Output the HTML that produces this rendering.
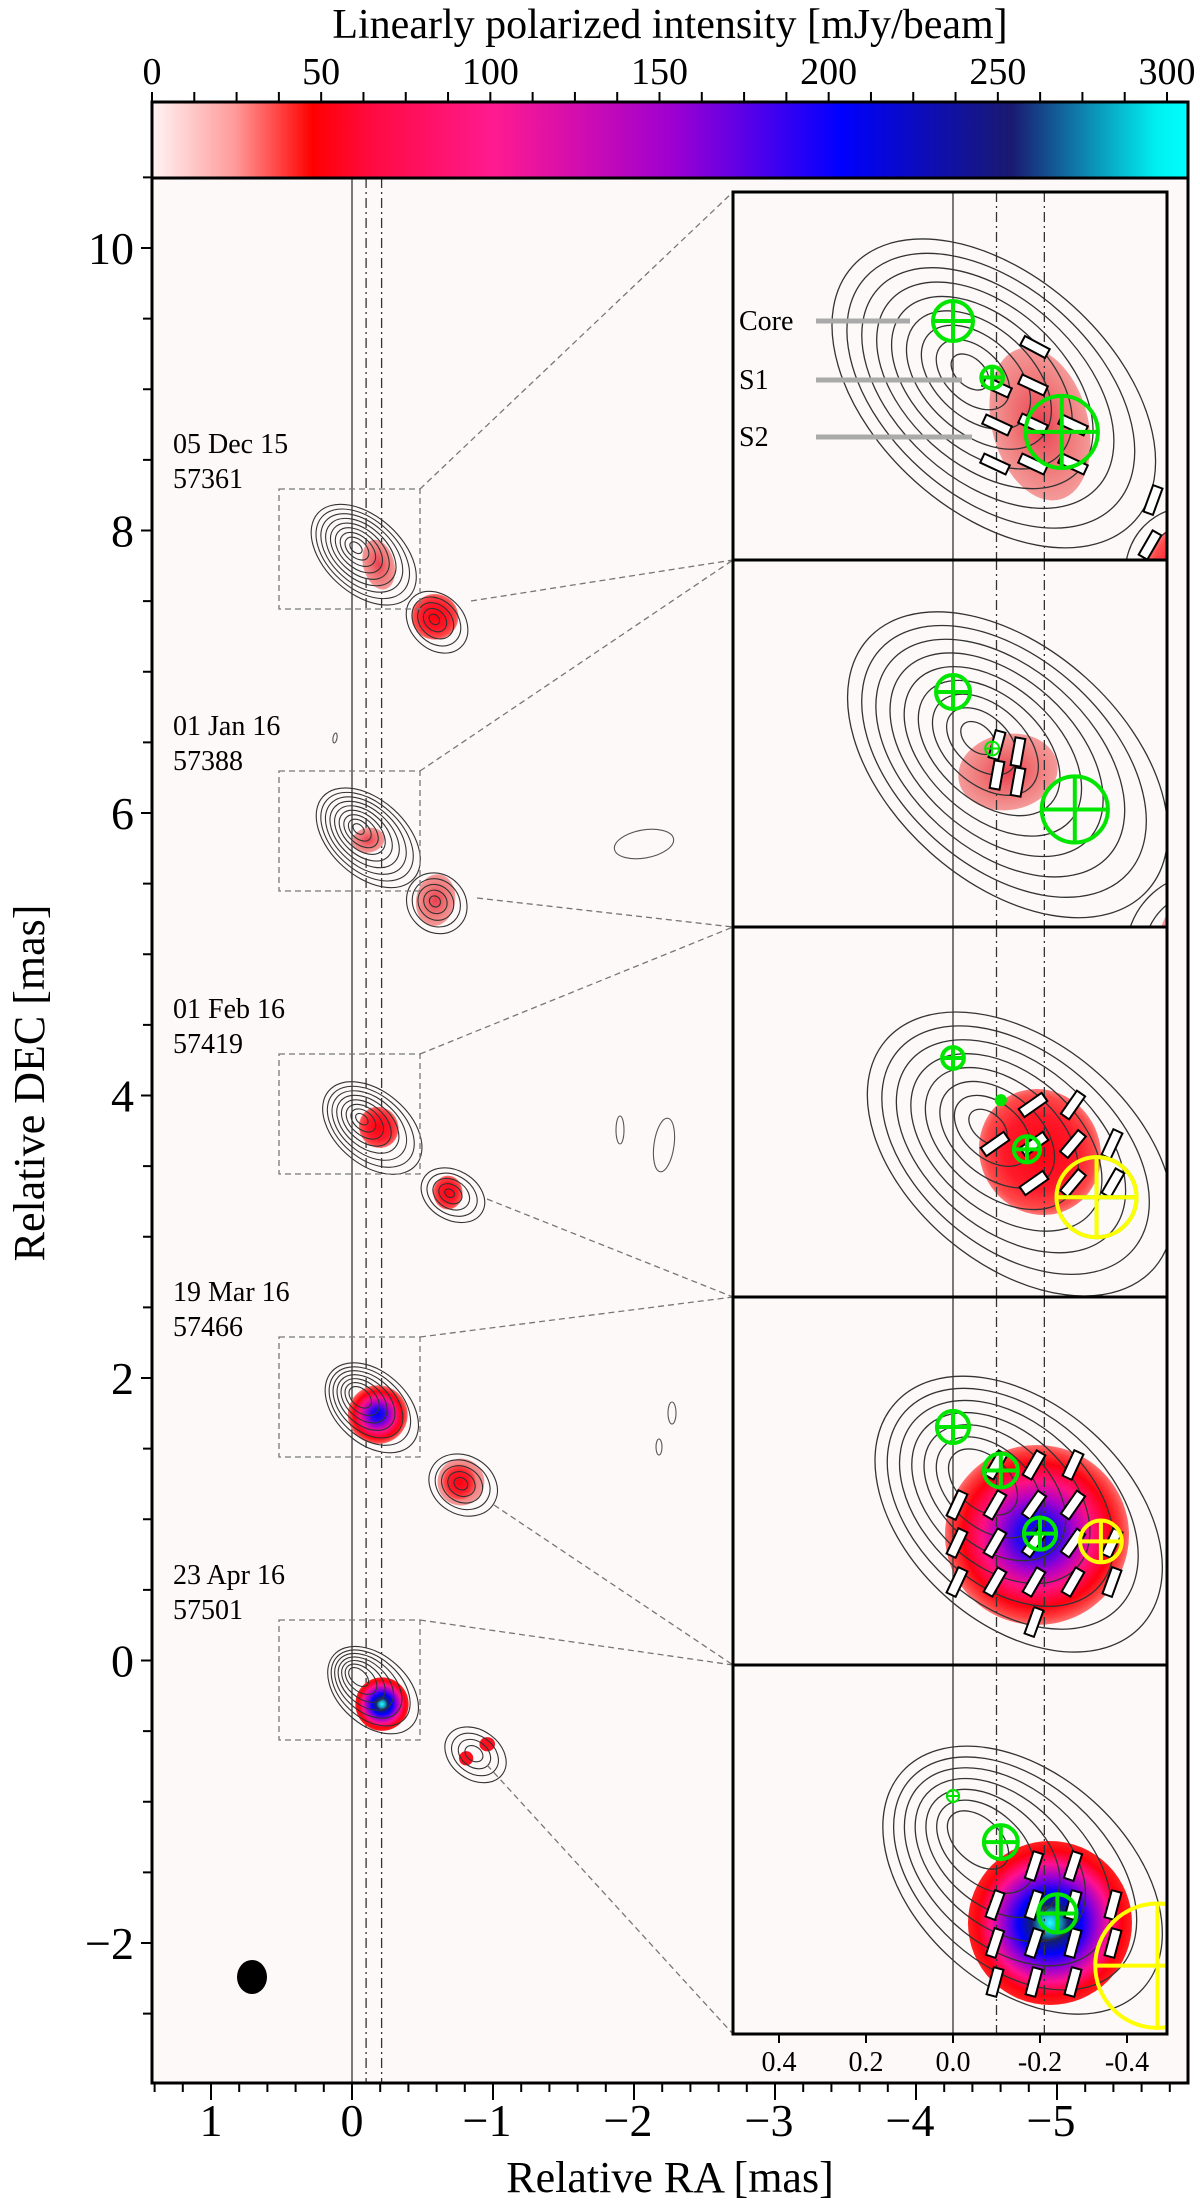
<!DOCTYPE html>
<html><head><meta charset="utf-8"><style>
html,body{margin:0;padding:0;background:#fff}
svg{display:block;font-family:"Liberation Serif",serif}
</style></head><body>
<svg id="fig" width="1200" height="2211" viewBox="0 0 1200 2211" xmlns="http://www.w3.org/2000/svg">
<defs>
<linearGradient id="cbar" x1="152" x2="1188" y1="0" y2="0" gradientUnits="userSpaceOnUse">
<stop offset="0" stop-color="#fff4f4"/><stop offset="0.08" stop-color="#ff9a9a"/><stop offset="0.155" stop-color="#ff0000"/>
<stop offset="0.21" stop-color="#ff0a40"/><stop offset="0.33" stop-color="#ff1a90"/><stop offset="0.5" stop-color="#a000d0"/>
<stop offset="0.6" stop-color="#4000f0"/><stop offset="0.665" stop-color="#0000ff"/><stop offset="0.83" stop-color="#1a1a70"/>
<stop offset="0.97" stop-color="#00f0f0"/><stop offset="1" stop-color="#00ffff"/>
</linearGradient>
<radialGradient id="gWeak"><stop offset="0" stop-color="#ea4050"/><stop offset="0.6" stop-color="#f07a7a"/><stop offset="1" stop-color="#f49a9a"/></radialGradient>
<radialGradient id="gRed"><stop offset="0" stop-color="#ff0010"/><stop offset="0.6" stop-color="#ff1a2a"/><stop offset="0.9" stop-color="#ff4a4a"/><stop offset="1" stop-color="#f77"/></radialGradient>
<radialGradient id="gE4"><stop offset="0" stop-color="#0000f8"/><stop offset="0.22" stop-color="#2a08f0"/><stop offset="0.42" stop-color="#b000c8"/><stop offset="0.6" stop-color="#ff1080"/><stop offset="0.8" stop-color="#ff0010"/><stop offset="0.93" stop-color="#ff4040"/><stop offset="1" stop-color="#ff7070"/></radialGradient>
<radialGradient id="gE5"><stop offset="0" stop-color="#20ffff"/><stop offset="0.12" stop-color="#18a0c0"/><stop offset="0.22" stop-color="#14206a"/><stop offset="0.38" stop-color="#0000ff"/><stop offset="0.55" stop-color="#9000d8"/><stop offset="0.72" stop-color="#ff1090"/><stop offset="0.88" stop-color="#ff0010"/><stop offset="1" stop-color="#ff2020"/></radialGradient>
<clipPath id="plotClip"><rect x="152" y="178" width="1036" height="1905"/></clipPath>
</defs>
<g id="root"></g>
</svg>
<script>
// ---------- data ----------
const cbTicks = [0, 50, 100, 150, 200, 250, 300];
const decTicks = [10, 8, 6, 4, 2, 0, -2];
const raTicks = [1, 0, -1, -2, -3, -4, -5];
const insetTicks = [0.4, 0.2, 0.0, -0.2, -0.4];
const epochDates = ["05 Dec 15", "01 Jan 16", "01 Feb 16", "19 Mar 16", "23 Apr 16"];
const epochMJD = ["57361", "57388", "57419", "57466", "57501"];
const refLinesRA = [0, -0.1, -0.21];
// model components per epoch: [ra mas, dec offset mas from core, radius mas]
const coreComp = [[0,0,0.046],[0,0,0.039],[0,0,0.025],[0,0,0.037],[0,0,0.014]];
const s1Comp = [[-0.09,-0.13,0.025],[-0.09,-0.13,0.016],[-0.17,-0.21,0.03],[-0.11,-0.10,0.039],[-0.11,-0.106,0.039]];
const s2Comp = [[-0.25,-0.255,0.083],[-0.28,-0.27,0.076],[-0.33,-0.32,0.092],[-0.2,-0.245,0.037],[-0.24,-0.27,0.044]];
const yellowComp = [null,null,[-0.33,-0.32,0.092],[-0.34,-0.263,0.048],[-0.47,-0.39,0.143]];
const dotComp = [null,null,[-0.11,-0.097,0.014],null,null];

// ---------- scales ----------
const NS = "http://www.w3.org/2000/svg";
const root = document.getElementById('root');
function mk(tag, attrs, parent){const e=document.createElementNS(NS,tag);for(const k in attrs)e.setAttribute(k,attrs[k]);(parent||root).appendChild(e);return e;}
const xRA = ra => 352 - ra*141;
const yDEC = d => 248 + (10-d)*141.25;
const xCB = v => 152 + v*(1167-152)/300;
const INS_L=733, INS_R=1167, INS_W=434, INS_S=435;
const xIns = ra => 953 - ra*INS_S;
const panelTops = [192,560,927,1297,1665,2034];
const boxTops = [489,771,1054,1337,1620];
const BOX_L=279, BOX_W=141, BOX_H=120, SCX=INS_W/BOX_W, SCY=368/BOX_H;
const coreLocal = [[215,129],[216,132],[215,131],[215,130],[215,131]];

// ---------- colorbar ----------
const cbTitle = mk('text',{x:670,y:38,'font-size':42,'text-anchor':'middle'});
cbTitle.textContent='Linearly polarized intensity [mJy/beam]';


const cb = mk('rect',{x:152,y:102,width:1036,height:76,fill:'url(#cbar)',stroke:'#000','stroke-width':3});


for(let v=0; v<=300; v+=12.5){ mk('line',{x1:xCB(v),x2:xCB(v),y1:102,y2:92,stroke:'#000','stroke-width':2}); }
cbTicks.forEach(v=>{const t=mk('text',{x:xCB(v),y:84,'font-size':38,'text-anchor':'middle'});t.textContent=String(v);

});

// ---------- main plot ----------
const bg = mk('rect',{x:152,y:178,width:1036,height:1905,fill:'#fdf9f8'});


const mainG = mk('g',{'clip-path':'url(#plotClip)'});

function rings(g, cx, cy, ang, n, rx0, drx, ry0, dry, shift, sw){
  const a = ang*Math.PI/180;
  for(let k=0;k<n;k++){
    const c=[cx+k*shift*Math.cos(a), cy+k*shift*Math.sin(a)];
    mk('ellipse',{cx:c[0],cy:c[1],rx:rx0+k*drx,ry:ry0+k*dry,transform:`rotate(${ang} ${c[0]} ${c[1]})`,fill:'none',stroke:'#333','stroke-width':sw,'vector-effect':'non-scaling-stroke'},g);
  }
}
function drawSource(g, i, sw){
  const blob=(cx,cy,rx,ry,rot,fill)=>mk('ellipse',{cx,cy,rx,ry,transform:`rotate(${rot} ${cx} ${cy})`,fill},g);
  if(i===0){
    blob(307,232,48,78,-15,'url(#gWeak)'); blob(480,392,72,70,0,'url(#gRed)');
    rings(g,237,180,42,9,22,21,14,13,4,sw); rings(g,478,400,45,5,18,22,14,17,3,sw);
  } else if(i===1){
    blob(275,212,50,38,-10,'url(#gWeak)'); blob(482,396,60,80,10,'url(#gWeak)');
    rings(g,245,178,42,9,20,21,13,13,5,sw); rings(g,480,400,45,5,18,20,16,18,2,sw);
  } else if(i===2){
    blob(307,225,60,64,-30,'url(#gRed)'); blob(520,425,45,52,0,'url(#gRed)');
    rings(g,255,200,40,8,22,22,14,14,6,sw); rings(g,525,427,30,5,16,22,12,16,3,sw);
  } else if(i===3){
    blob(304,238,92,90,0,'url(#gE4)'); blob(560,445,72,72,0,'url(#gWeak)'); blob(555,445,52,55,0,'url(#gRed)');
    rings(g,250,185,42,7,40,21,26,14,8,sw); rings(g,560,450,30,5,22,22,18,18,2,sw);
  } else {
    blob(317,258,82,82,0,'url(#gE5)'); blob(576,424,22,22,0,'#ff1020'); blob(641,381,24,22,0,'#ff1020');
    rings(g,245,175,42,7,36,21,22,14,10,sw); rings(g,600,410,35,4,30,24,22,18,2,sw);
  }
}

refLinesRA.forEach((ra,k)=>{const l=mk('line',{x1:xRA(ra),x2:xRA(ra),y1:178,y2:2083,stroke:'#333','stroke-width':1.3,'stroke-dasharray':k?'10,4,2,4':'none'},mainG);

});

for(let i=0;i<5;i++){
  const g = mk('g',{transform:`translate(${BOX_L} ${boxTops[i]}) scale(${1/SCX} ${1/SCY})`},mainG);
  
  
  drawSource(g,i,1.1);
  const box = mk('rect',{x:BOX_L,y:boxTops[i],width:BOX_W,height:BOX_H,fill:'none',stroke:'#777','stroke-width':1.3,'stroke-dasharray':'6,4'},mainG);
  
  
  const t1 = mk('text',{x:173,y:boxTops[i]-36,'font-size':28});
  t1.textContent = epochDates[i];
  
  
  const t2 = mk('text',{x:173,y:boxTops[i]-1,'font-size':28});
  t2.textContent = epochMJD[i];
  
  
}
[[644,844,30,14,-10],[620,1130,4,14,0],[664,1145,10,27,8],[672,1413,4,11,0],[659,1447,3,8,0],[335,738,2,5,10]].forEach(c=>{
  mk('ellipse',{cx:c[0],cy:c[1],rx:c[2],ry:c[3],transform:`rotate(${c[4]} ${c[0]} ${c[1]})`,fill:'none',stroke:'#555','stroke-width':1.1},mainG);
});
const connLow = [[471,601],[477,898],[487,1199],[494,1505],[487,1765]];
for(let i=0;i<5;i++){
  mk('line',{x1:420,y1:boxTops[i],x2:INS_L,y2:panelTops[i],stroke:'#777','stroke-width':1.3,'stroke-dasharray':'6,4'},mainG);
  mk('line',{x1:connLow[i][0],y1:connLow[i][1],x2:INS_L,y2:panelTops[i+1],stroke:'#777','stroke-width':1.3,'stroke-dasharray':'6,4'},mainG);
}
const beam = mk('ellipse',{cx:252,cy:1977,rx:15,ry:17,fill:'#000'});



// ---------- insets ----------
const bars = [
 [[1035,347,28],[1033,385,25],[997,387,25],[997,425,25],[1033,424,25],[1073,425,25],[995,464,25],[1033,464,25],[1073,464,25],[1153,500,-70],[1150,545,-60]],
 [[997,745,-75],[997,775,-80],[1018,752,-80],[1018,782,-80]],
 [[1033,1105,-35],[1073,1105,-55],[995,1144,-35],[1034,1144,-35],[1073,1144,-50],[1112,1144,-65],[1034,1183,-35],[1073,1183,-50],[1113,1183,-60]],
 [[996,1465,-60],[1034,1465,-60],[1073,1465,-65],[957,1505,-65],[995,1505,-60],[1034,1505,-55],[1073,1505,-55],[957,1543,-65],[995,1543,-60],[1034,1543,-55],[1073,1543,-55],[1112,1543,-65],[957,1582,-65],[995,1582,-60],[1034,1582,-60],[1073,1582,-60],[1112,1582,-70],[1034,1622,-70]],
 [[1034,1866,-72],[1073,1866,-72],[995,1905,-70],[1034,1905,-72],[1073,1905,-75],[1113,1905,-75],[995,1943,-72],[1034,1943,-72],[1073,1943,-75],[1113,1943,-75],[995,1982,-75],[1034,1982,-75],[1073,1982,-75]]
];
function marker(g,cx,cy,r,col){
  const m = mk('g',{},g);
  
  
  const sw = r<9?2:4;
  mk('circle',{cx,cy,r,fill:'none',stroke:col,'stroke-width':sw},m);
  mk('line',{x1:cx-r,x2:cx+r,y1:cy,y2:cy,stroke:col,'stroke-width':sw},m);
  mk('line',{x1:cx,x2:cx,y1:cy-r,y2:cy+r,stroke:col,'stroke-width':sw},m);
}
for(let i=0;i<5;i++){
  const top=panelTops[i], h=panelTops[i+1]-top;
  mk('clipPath',{id:'pc'+i},document.querySelector('defs')).appendChild(document.createElementNS(NS,'rect'));
  const cr = document.querySelector('#pc'+i+' rect'); cr.setAttribute('x',INS_L);cr.setAttribute('y',top);cr.setAttribute('width',INS_W);cr.setAttribute('height',h);
  mk('rect',{x:INS_L,y:top,width:INS_W,height:h,fill:'#fdf9f8'});
  const pg = mk('g',{'clip-path':`url(#pc${i})`});
  
  
  const sg = mk('g',{transform:`translate(${INS_L} ${top})`},pg);
  drawSource(sg,i,1.3);
  refLinesRA.forEach((ra,k)=>mk('line',{x1:xIns(ra),x2:xIns(ra),y1:top,y2:top+h,stroke:'#333','stroke-width':1.3,'stroke-dasharray':k?'10,4,2,4':'none'},pg));
  bars[i].forEach(b=>{const r=mk('rect',{x:b[0]-14,y:b[1]-5,width:28,height:10,fill:'#fff',stroke:'#000','stroke-width':2,transform:`rotate(${b[2]} ${b[0]} ${b[1]})`},pg);
    
    });
  const cy0 = top+coreLocal[i][1];
  const yI = d => cy0 - d*INS_S;
  const C=coreComp[i]; marker(pg,xIns(C[0]),yI(C[1]),C[2]*INS_S,'#00e600');
  const S1=s1Comp[i]; marker(pg,xIns(S1[0]),yI(S1[1]),S1[2]*INS_S,'#00e600');
  const S2=s2Comp[i]; marker(pg,xIns(S2[0]),yI(S2[1]),S2[2]*INS_S,'#00e600');
  if(yellowComp[i]){const Y=yellowComp[i]; marker(pg,xIns(Y[0]),yI(Y[1]),Y[2]*INS_S,'#ffff00');}
  if(dotComp[i]){const D=dotComp[i]; mk('circle',{cx:xIns(D[0]),cy:yI(D[1]),r:D[2]*INS_S,fill:'#00e600'},pg);}
  if(i===0){
    [['Core',321,910],['S1',380,962],['S2',437,972]].forEach(l=>{
      mk('line',{x1:816,x2:l[2],y1:l[1],y2:l[1],stroke:'#aaa','stroke-width':5},pg);
      const t=mk('text',{x:739,y:l[1]+9,'font-size':28},pg); t.textContent=l[0];
      
      
    });
  }
  const fr = mk('rect',{x:INS_L,y:top,width:INS_W,height:h,fill:'none',stroke:'#000','stroke-width':3});
  
  
}
for(let k=-3; k<=2; k++){ const x=xIns(k*0.2); if(x<INS_L||x>INS_R) continue; mk('line',{x1:x,x2:x,y1:2034,y2:2043,stroke:'#000','stroke-width':2}); }
insetTicks.forEach(v=>{const t=mk('text',{x:xIns(v),y:2071,'font-size':28,'text-anchor':'middle'});t.textContent=v.toFixed(1);

});

// ---------- main axes ----------
const frame = mk('rect',{x:152,y:178,width:1036,height:1905,fill:'none',stroke:'#000','stroke-width':3});


for(let d=-2.5; d<=10.5; d+=0.5){ const y=yDEC(d); const maj=Math.abs(d%2)<1e-6; mk('line',{x1:152,x2:maj?141:143,y1:y,y2:y,stroke:'#000','stroke-width':2}); }
decTicks.forEach(d=>{const t=mk('text',{x:134,y:yDEC(d)+16,'font-size':46,'text-anchor':'end'});t.textContent=(d<0?'\u2212':'')+Math.abs(d);

});
for(let k=-29; k<=7; k++){ const ra=k*0.2; const x=xRA(ra); if(x<152||x>1188) continue; const maj=k%5===0; mk('line',{x1:x,x2:x,y1:2083,y2:maj?2100:2092,stroke:'#000','stroke-width':2}); }
raTicks.forEach(r=>{const t=mk('text',{x:xRA(r)-(r<0?6:0),y:2136,'font-size':46,'text-anchor':'middle'});t.textContent=(r<0?'\u2212':'')+Math.abs(r);

});
const xl = mk('text',{x:670,y:2192,'font-size':44,'text-anchor':'middle'}); xl.textContent='Relative RA [mas]';


const yl = mk('text',{x:0,y:0,'font-size':44,'text-anchor':'middle',transform:'translate(44 1083) rotate(-90)'}); yl.textContent='Relative DEC [mas]';


</script>
</body></html>
